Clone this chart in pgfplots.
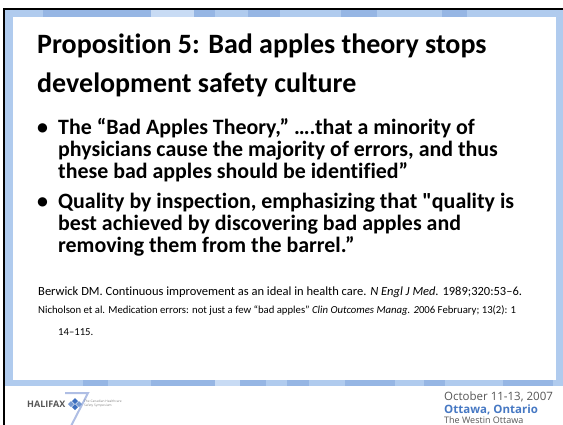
\documentclass[border=0pt]{standalone}
\usepackage{pgfplots}
\pgfplotsset{compat=1.18}
\usepackage{fontspec}
\setmainfont{Carlito}
\newfontfamily\carl{Carlito}[Ligatures=NoCommon]
\newfontfamily\footfont{Open Sans}
\definecolor{frameblue}{RGB}{176,203,238}
\definecolor{framedark}{RGB}{150,182,228}
\definecolor{framelight}{RGB}{200,219,244}
\definecolor{footgray}{RGB}{85,85,85}
\definecolor{ottblue}{RGB}{70,120,195}
\definecolor{logoblue}{RGB}{60,110,190}
\definecolor{sevenblue}{RGB}{175,190,228}
\newcommand{\bl}[2]{\node[anchor=base west,inner sep=0pt] at (axis cs:58,#1) {\carl\fontsize{21.9}{23}\selectfont\bfseries #2};}
\newcommand{\bdot}[1]{\node[anchor=base west,inner sep=0pt] at (axis cs:37,#1) {\carl\fontsize{21.9}{23}\selectfont\bfseries •};}
\begin{document}
\begin{tikzpicture}
\begin{axis}[width=563pt,height=424pt,scale only axis,
  xmin=0,xmax=563,ymin=0,ymax=424,y dir=reverse,hide axis,clip=true]
% light blue frame
\addplot[fill=frameblue,draw=none] coordinates {(5,10)(563,10)(563,386)(5,386)} -- cycle;
% darker/lighter segments of top band
\addplot[fill=framedark,draw=none] coordinates {(43,10)(151,10)(151,17)(43,17)} -- cycle;
\addplot[fill=framelight,draw=none] coordinates {(151,10)(194,10)(194,17)(151,17)} -- cycle;
\addplot[fill=framedark,draw=none] coordinates {(194,10)(215,10)(215,17)(194,17)} -- cycle;
\addplot[fill=framedark,draw=none] coordinates {(248,10)(280,10)(280,17)(248,17)} -- cycle;
\addplot[fill=framedark,draw=none] coordinates {(341,10)(377,10)(377,17)(341,17)} -- cycle;
\addplot[fill=framedark,draw=none] coordinates {(442,10)(467,10)(467,17)(442,17)} -- cycle;
% bottom band segments
\addplot[fill=framedark,draw=none] coordinates {(83,380)(108,380)(108,386)(83,386)} -- cycle;
\addplot[fill=framedark,draw=none] coordinates {(151,380)(215,380)(215,386)(151,386)} -- cycle;
\addplot[fill=framelight,draw=none] coordinates {(215,380)(240,380)(240,386)(215,386)} -- cycle;
\addplot[fill=framedark,draw=none] coordinates {(240,380)(266,380)(266,386)(240,386)} -- cycle;
\addplot[fill=framedark,draw=none] coordinates {(287,380)(309,380)(309,386)(287,386)} -- cycle;
\addplot[fill=framedark,draw=none] coordinates {(345,380)(395,380)(395,386)(345,386)} -- cycle;
\addplot[fill=framedark,draw=none] coordinates {(424,380)(445,380)(445,386)(424,386)} -- cycle;
\addplot[fill=framedark,draw=none] coordinates {(503,380)(553,380)(553,386)(503,386)} -- cycle;
% inner white panel
\addplot[fill=white,draw=none] coordinates {(13,17)(556,17)(556,380)(13,380)} -- cycle;
% black outer frame
\addplot[draw=black,line width=2.4pt] coordinates {(4,430)(4,9)(570,9)};
% "7" of logo
\addplot[draw=sevenblue,line width=2pt] coordinates {(65,393)(88,393)(70,428)};
% logo petals
\addplot[fill=logoblue,draw=none] coordinates {(75,398)(78,401)(75,404)(72,401)} -- cycle;
\addplot[fill=logoblue!70,draw=none] coordinates {(79,401)(82,404)(79,407)(76,404)} -- cycle;
\addplot[fill=logoblue,draw=none] coordinates {(75,404)(78,407)(75,410)(72,407)} -- cycle;
\addplot[fill=logoblue!70,draw=none] coordinates {(71,401)(74,404)(71,407)(68,404)} -- cycle;

% title
\node[anchor=base west,inner sep=0pt] at (axis cs:37,53) {\carl\fontsize{28}{30}\selectfont\bfseries Proposition 5: Bad apples theory stops};
\node[anchor=base west,inner sep=0pt] at (axis cs:37,92) {\carl\fontsize{28}{30}\selectfont\bfseries development safety culture};
% bullets
\bdot{134}
\bl{134}{The “Bad Apples Theory,” ….that a minority of}
\bl{156}{physicians cause the majority of errors, and thus}
\bl{178}{these bad apples should be identified”}
\bdot{208}
\bl{208}{Quality by inspection, emphasizing that "quality is}
\bl{230}{best achieved by discovering bad apples and}
\bl{252}{removing them from the barrel.”}
% references
\node[anchor=base west,inner sep=0pt] at (axis cs:38,295) {\carl\fontsize{12.5}{13}\selectfont Berwick DM. Continuous improvement as an ideal in health care. \textit{N Engl J Med.} 1989;320:53–6.};
\node[anchor=base west,inner sep=0pt] at (axis cs:38,313) {\carl\fontsize{10.7}{12}\selectfont Nicholson et al. Medication errors: not just a few “bad apples” \textit{Clin Outcomes Manag. 2}006 February; 13(2): 1};
\node[anchor=base west,inner sep=0pt] at (axis cs:58,335) {\carl\fontsize{10.7}{12}\selectfont 14–115.};
% footer
\node[anchor=base west,inner sep=0pt,text=footgray] at (axis cs:27,407) {\footfont\fontsize{9}{10}\selectfont\bfseries HALIFAX};
\node[anchor=base west,inner sep=0pt,text=gray] at (axis cs:84,402) {\footfont\fontsize{3.2}{4}\selectfont The Canadian Healthcare};
\node[anchor=base west,inner sep=0pt,text=gray] at (axis cs:84,406.5) {\footfont\fontsize{3.2}{4}\selectfont Safety Symposium};
\node[anchor=base west,inner sep=0pt,text=footgray] at (axis cs:444,400) {\footfont\fontsize{11.5}{12}\selectfont October 11-13, 2007};
\node[anchor=base west,inner sep=0pt,text=ottblue] at (axis cs:444,413) {\footfont\fontsize{11.5}{12}\selectfont\bfseries Ottawa, Ontario};
\node[anchor=base west,inner sep=0pt,text=footgray] at (axis cs:444,423) {\footfont\fontsize{9}{10}\selectfont The Westin Ottawa};
\end{axis}
\pgfresetboundingbox
\useasboundingbox (0,0) rectangle (563pt,424pt);
\end{tikzpicture}
\end{document}
